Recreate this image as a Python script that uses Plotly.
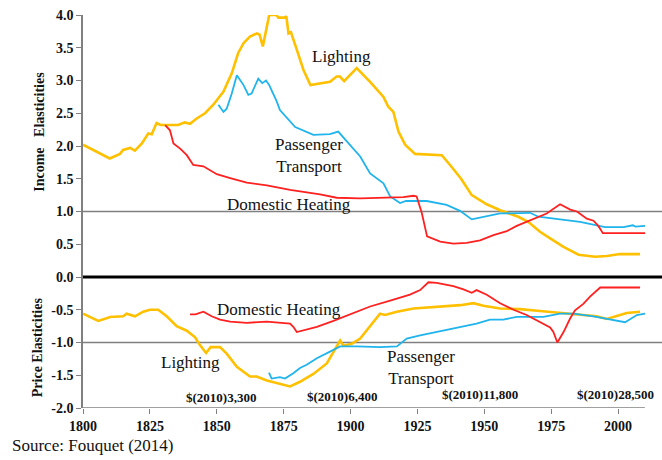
import plotly.graph_objects as go

# ---------------- data ----------------
inc_light_years = [1800, 1805, 1810, 1813.8, 1815, 1817.6, 1819.4, 1822, 1824.4, 1825.7, 1827.5, 1829,
                   1835.6, 1838, 1840, 1842.5, 1845.6, 1848.7, 1852.5, 1855.6, 1858, 1860, 1862.4, 1865,
                   1866, 1867.2, 1868.7, 1869.6, 1872.3, 1873.0, 1875.4, 1876.0, 1876.8, 1877.7, 1879.9,
                   1882.4, 1885.0, 1892.3, 1894.8, 1896, 1897.6, 1902.3, 1907.3, 1912.3, 1914.1, 1916,
                   1917.9, 1920.4, 1924.1, 1934.1, 1937.8, 1941.3, 1945.3, 1950.9, 1955.9, 1962.7, 1966.5,
                   1970.8, 1974.6, 1979.6, 1985.2, 1991.4, 1995.8, 2000.7, 2008.2]
inc_light = [2.02, 1.91, 1.81, 1.88, 1.94, 1.97, 1.93, 2.04, 2.19, 2.18, 2.35, 2.32,
             2.32, 2.36, 2.34, 2.42, 2.50, 2.63, 2.83, 3.11, 3.42, 3.57, 3.67, 3.72,
             3.70, 3.52, 3.85, 4.00, 4.00, 3.96, 3.96, 3.98, 3.72, 3.74, 3.47,
             3.16, 2.93, 2.98, 3.06, 3.06, 2.99, 3.19, 2.98, 2.75, 2.60, 2.52,
             2.22, 2.02, 1.88, 1.86, 1.68, 1.50, 1.25, 1.11, 1.02, 0.92, 0.84,
             0.69, 0.59, 0.46, 0.34, 0.31, 0.32, 0.35, 0.35]

inc_trans_years = [1850.6, 1852.5, 1853.7, 1855.6, 1857.5, 1860, 1861.8, 1863, 1865.5, 1867, 1868.4,
                   1869.6, 1872.4, 1873.6, 1879.3, 1886.1, 1892.3, 1895.4, 1898.6, 1903.6, 1907.3,
                   1912.3, 1914.8, 1918.5, 1920.7, 1928.5, 1935.9, 1940.9, 1945.3, 1950.9, 1955.9,
                   1967.1, 1970.2, 1978.3, 1985.8, 1992, 1995.1, 2002, 2005.5, 2006.5, 2010.1]
inc_trans = [2.63, 2.52, 2.57, 2.80, 3.08, 2.93, 2.78, 2.80, 3.03, 2.96, 3.00,
             2.93, 2.68, 2.55, 2.29, 2.17, 2.18, 2.22, 2.07, 1.84, 1.58,
             1.43, 1.23, 1.13, 1.16, 1.16, 1.10, 1.01, 0.88, 0.93, 0.97,
             0.98, 0.92, 0.88, 0.84, 0.79, 0.76, 0.76, 0.79, 0.77, 0.78]

inc_heat_years = [1830.7, 1832.5, 1833.8, 1836.3, 1838.8, 1841.2, 1845, 1850, 1855, 1861.2, 1868.7,
                  1877.4, 1888.6, 1894.8, 1903.6, 1914.8, 1919.7, 1923.5, 1924.7, 1926.6, 1928.6,
                  1933.5, 1938.4, 1943.4, 1948.4, 1953.4, 1958.4, 1962.1, 1967.1, 1973.3, 1978.3,
                  1982.1, 1984.6, 1988.3, 1990.8, 1992.6, 1994.3, 2010.1]
inc_heat = [2.32, 2.24, 2.04, 1.96, 1.86, 1.71, 1.69, 1.57, 1.51, 1.44, 1.40,
            1.33, 1.26, 1.21, 1.20, 1.21, 1.22, 1.24, 1.23, 0.98, 0.62,
            0.54, 0.51, 0.52, 0.56, 0.64, 0.70, 0.78, 0.87, 0.97, 1.11,
            1.03, 1.00, 0.89, 0.86, 0.78, 0.67, 0.67]

pr_light_years = [1800, 1802.6, 1805.7, 1808.8, 1810.1, 1815, 1816.3, 1819.4, 1822.5, 1825, 1828.1,
                  1831.3, 1835, 1838.8, 1841.9, 1843.7, 1846, 1847.7, 1851.2, 1853.7, 1857.5, 1862.4,
                  1864.9, 1868.7, 1873.6, 1877.4, 1881.1, 1886.1, 1891.1, 1894.2, 1896.1, 1897.3,
                  1900.4, 1903.6, 1907.3, 1911, 1912.9, 1917.3, 1923.5, 1932.2, 1941, 1945.9, 1949.6,
                  1955.9, 1963.4, 1970.8, 1978.3, 1985.8, 1992, 1995.8, 1999.5, 2003.2, 2008.2]
pr_light = [-0.56, -0.61, -0.67, -0.63, -0.61, -0.60, -0.56, -0.60, -0.53, -0.50, -0.50,
            -0.60, -0.75, -0.82, -0.92, -1.04, -1.16, -1.07, -1.07, -1.17, -1.37, -1.52,
            -1.52, -1.58, -1.63, -1.67, -1.60, -1.48, -1.32, -1.11, -0.97, -1.05,
            -1.02, -0.94, -0.75, -0.56, -0.58, -0.53, -0.48, -0.45, -0.43, -0.40, -0.44,
            -0.48, -0.49, -0.52, -0.55, -0.58, -0.60, -0.64, -0.60, -0.55, -0.53]

pr_heat_years = [1840, 1842, 1845, 1848.1, 1851.2, 1855, 1861.2, 1868.6, 1877.4, 1878.6, 1879.9,
                 1882.4, 1887.4, 1893.6, 1899.8, 1907.3, 1914.8, 1922.2, 1926, 1929.1, 1932.2,
                 1938.4, 1942.2, 1945.3, 1947.1, 1950.9, 1955.9, 1960.9, 1965.8, 1969.6, 1974.6,
                 1975.8, 1977.3, 1979.6, 1982.1, 1983.9, 1987, 1989.5, 1993.3, 2008.2]
pr_heat = [-0.57, -0.57, -0.53, -0.60, -0.65, -0.68, -0.70, -0.68, -0.71, -0.76, -0.84,
           -0.81, -0.76, -0.67, -0.57, -0.45, -0.36, -0.27, -0.20, -0.08, -0.09,
           -0.14, -0.19, -0.24, -0.20, -0.27, -0.40, -0.50, -0.58, -0.66, -0.77,
           -0.84, -1.00, -0.84, -0.63, -0.51, -0.41, -0.30, -0.16, -0.16]

pr_trans_years = [1869.5, 1870.5, 1873.6, 1875.5, 1878.6, 1881.1, 1883.6, 1887.4, 1892.3, 1896.1,
                  1902.3, 1911, 1917.3, 1921, 1926, 1932.2, 1939.7, 1944.7, 1947.1, 1952.1, 1957.1,
                  1962.1, 1967.1, 1972.1, 1978.3, 1983.3, 1990.8, 1994.5, 1999.5, 2002.6, 2007, 2010.1]
pr_trans = [-1.46, -1.55, -1.53, -1.55, -1.47, -1.39, -1.34, -1.24, -1.14, -1.06,
            -1.06, -1.07, -1.06, -0.94, -0.89, -0.84, -0.77, -0.74, -0.71, -0.65, -0.65,
            -0.61, -0.61, -0.61, -0.56, -0.56, -0.60, -0.63, -0.67, -0.69, -0.58, -0.56]

y_ticks = [4.0, 3.5, 3.0, 2.5, 2.0, 1.5, 1.0, 0.5, 0.0, -0.5, -1.0, -1.5, -2.0]
y_tick_labels = ["4.0", "3.5", "3.0", "2.5", "2.0", "1.5", "1.0", "0.5", "0.0", "-0.5", "-1.0", "-1.5", "-2.0"]
x_ticks = [1800, 1825, 1850, 1875, 1900, 1925, 1950, 1975, 2000]
x_tick_labels = ["1800", "1825", "1850", "1875", "1900", "1925", "1950", "1975", "2000"]

income_labels = [("Lighting", 1896.5, 3.36), ("Passenger<br>Transport", 1884.5, 1.86),
                 ("Domestic Heating", 1877, 1.11)]
price_labels = [("Domestic Heating", 1873.3, -0.49), ("Lighting", 1840, -1.31),
                ("Passenger<br>Transport", 1926.4, -1.38)]
gdp_labels = [("$(2010)3,300", 1851.6, -1.84), ("$(2010)6,400", 1896.8, -1.83),
              ("$(2010)11,800", 1948.4, -1.80), ("$(2010)28,500", 1999.1, -1.80)]

ORANGE = "#FFC000"
BLUE = "#1FB4EC"
RED = "#FF2020"
SERIF = "Liberation Serif, Times New Roman, serif"

fig = go.Figure()
for xs, ys, col, w in [(inc_light_years, inc_light, ORANGE, 2.6),
                       (inc_trans_years, inc_trans, BLUE, 1.8),
                       (inc_heat_years, inc_heat, RED, 1.8),
                       (pr_light_years, pr_light, ORANGE, 2.6),
                       (pr_trans_years, pr_trans, BLUE, 1.8),
                       (pr_heat_years, pr_heat, RED, 1.8)]:
    fig.add_trace(go.Scatter(x=xs, y=ys, mode="lines", line=dict(color=col, width=w),
                             showlegend=False, hoverinfo="skip"))

shapes = [
    dict(type="line", xref="paper", yref="y", x0=0, x1=1, y0=1, y1=1,
         line=dict(color="#808080", width=1.5), layer="below"),
    dict(type="line", xref="paper", yref="y", x0=0, x1=1, y0=-1, y1=-1,
         line=dict(color="#808080", width=1.5), layer="below"),
    dict(type="line", xref="paper", yref="y", x0=0, x1=1, y0=0, y1=0,
         line=dict(color="#000000", width=3)),
    dict(type="line", xref="x", yref="y", x0=1800, x1=2010, y0=-2, y1=-2,
         line=dict(color="#808080", width=1.5)),
]

ann = []
for t, x, y in income_labels + price_labels:
    ann.append(dict(text=t, x=x, y=y, xref="x", yref="y", showarrow=False,
                    font=dict(family=SERIF, size=17, color="#111")))
for t, x, y in gdp_labels:
    ann.append(dict(text="<b>" + t + "</b>", x=x, y=y, xref="x", yref="y", showarrow=False,
                    font=dict(family=SERIF, size=13, color="#111")))
ann.append(dict(text="<b>Income\u00a0\u00a0 Elasticities</b>", x=0, xshift=-53, y=2.21,
                xref="paper", yref="y", showarrow=False, textangle=-90,
                font=dict(family=SERIF, size=14, color="#111")))
ann.append(dict(text="<b>Price Elasticities</b>", x=0, xshift=-55, y=-1.08,
                xref="paper", yref="y", showarrow=False, textangle=-90,
                font=dict(family=SERIF, size=14, color="#111")))
ann.append(dict(text="Source: Fouquet (2014)", x=0, xshift=-73, y=0, yref="paper", yshift=-37,
                xref="paper", xanchor="left", yanchor="middle", showarrow=False,
                font=dict(family=SERIF, size=17, color="#111")))

fig.update_layout(
    width=662, height=460,
    margin=dict(l=83, r=0, t=15, b=52),
    paper_bgcolor="white", plot_bgcolor="white",
    shapes=shapes, annotations=ann,
    xaxis=dict(range=[1800, 2016.4], tickvals=x_ticks, ticktext=["<b>%s</b>" % s for s in x_tick_labels],
               showgrid=False, zeroline=False, showline=False, ticks="outside", ticklen=5,
               tickcolor="#808080", tickfont=dict(family=SERIF, size=14, color="#111")),
    yaxis=dict(range=[-2, 4], tickvals=y_ticks, ticktext=["<b>%s</b>" % s for s in y_tick_labels],
               showgrid=False, zeroline=False, showline=True, linecolor="#808080", linewidth=1.5,
               ticks="outside", ticklen=5, tickcolor="#808080",
               tickfont=dict(family=SERIF, size=14, color="#111")),
)

fig.write_html("out.html", config={"displayModeBar": False},
               post_script="document.body.style.margin='0px';")
